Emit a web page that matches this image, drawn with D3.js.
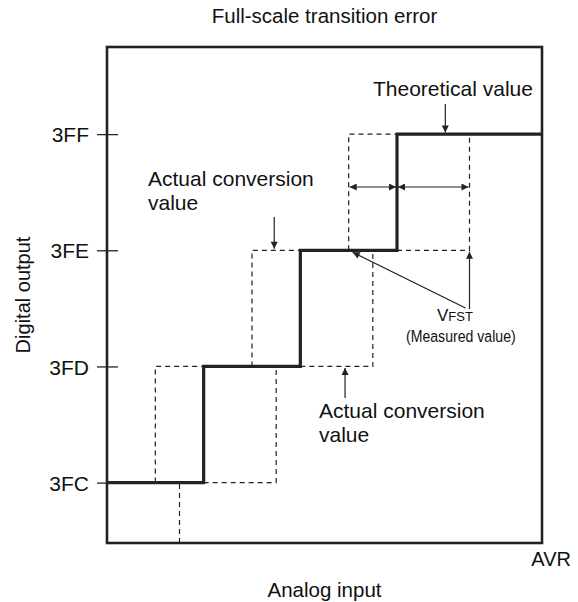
<!DOCTYPE html>
<html><head><meta charset="utf-8">
<script src="https://cdn.jsdelivr.net/npm/d3@7/dist/d3.min.js"></script>
<style>html,body{margin:0;padding:0;background:#fff;} text{font-family:"Liberation Sans",Arial,Helvetica,sans-serif;fill:#111;}</style>
</head><body>
<svg id="c" width="578" height="602"></svg>
<script>
// ---- data ----
const codes = ["3FC", "3FD", "3FE", "3FF"];            // digital output codes (y ticks)
const theoTransitions = [4, 8, 12];                    // theoretical code transitions (analog input units)
const earlyTransitions = [2, 6, 10];                   // actual conversion (early) transitions
const lateTransitions = [3, 7, 11, 15];                // actual conversion (late) transitions, first one 3FB->3FC
const analogMax = 18;                                  // AVR
const title = "Full-scale transition error";

const svg = d3.select("#c");
const x = d3.scaleLinear().domain([0, analogMax]).range([107, 542]);
const y = d3.scaleLinear().domain([-0.52, 3.75]).range([543, 47]);
const ink = "#222";

// arrow marker
const defs = svg.append("defs");
defs.append("marker").attr("id", "ah").attr("viewBox", "0 0 10 10").attr("refX", 10).attr("refY", 5)
  .attr("markerWidth", 10).attr("markerHeight", 7).attr("markerUnits", "userSpaceOnUse").attr("orient", "auto-start-reverse")
  .append("path").attr("d", "M0,0 L10,5 L0,10 z").attr("fill", ink);

// title
svg.append("text").attr("x", (x(0) + x(analogMax)) / 2).attr("y", 23).attr("text-anchor", "middle")
  .attr("font-size", 20.5).text(title);

// y axis ticks & labels
const yAxis = d3.axisLeft(y).tickValues(d3.range(codes.length)).tickFormat(i => codes[i]).tickSize(0);
const ga = svg.append("g").attr("transform", `translate(${x(0)},0)`).call(yAxis);
ga.select(".domain").remove();
ga.selectAll("text").attr("font-size", 21).attr("x", -18).attr("dy", "0.36em").style("fill", "#111")
  .attr("font-family", "Liberation Sans,Arial,sans-serif");
ga.selectAll(".tick line").attr("x1", -10).attr("x2", 11).attr("stroke", ink).attr("stroke-width", 1.3);

// dashed actual conversion lines
const line = d3.line().x(d => x(d[0])).y(d => y(d[1]));
const dashed = [];
earlyTransitions.forEach((t, i) => dashed.push([[t, i], [t, i + 1], [theoTransitions[i], i + 1]]));
dashed.push([[lateTransitions[0], -0.52], [lateTransitions[0], 0]]);
theoTransitions.forEach((t, i) => dashed.push([[t, i], [lateTransitions[i + 1], i], [lateTransitions[i + 1], i + 1]]));
svg.append("g").selectAll("path").data(dashed).join("path")
  .attr("d", line).attr("fill", "none").attr("stroke", ink).attr("stroke-width", 1.2).attr("stroke-dasharray", "5,4");

// theoretical staircase
const theo = [[0, 0]];
theoTransitions.forEach((t, i) => { theo.push([t, i]); theo.push([t, i + 1]); });
theo.push([analogMax, codes.length - 1]);
svg.append("path").attr("d", line(theo)).attr("fill", "none").attr("stroke", ink).attr("stroke-width", 3.2)
  .attr("stroke-linejoin", "miter");

// frame
svg.append("rect").attr("x", x(0)).attr("y", y(3.75)).attr("width", x(analogMax) - x(0)).attr("height", y(-0.52) - y(3.75))
  .attr("fill", "none").attr("stroke", ink).attr("stroke-width", 2.6);

// arrows
function arrow(x1, y1, x2, y2, both) {
  const p = svg.append("line").attr("x1", x1).attr("y1", y1).attr("x2", x2).attr("y2", y2)
    .attr("stroke", ink).attr("stroke-width", 1.2).attr("marker-end", "url(#ah)");
  if (both) p.attr("marker-start", "url(#ah)");
}
arrow(x(14), 104, x(14), y(3) - 1.5);           // Theoretical value
arrow(x(6.92), 217, x(6.92), y(2) - 1.5);       // upper actual conversion value
arrow(x(9.85), 398, x(9.85), y(1) + 1.5);       // lower actual conversion value
arrow(x(10) + 1, 187, x(12) - 1, 187, true);    // double arrows
arrow(x(12) + 1, 187, x(15) - 1, 187, true);
arrow(x(15), 309, x(15), y(2) + 1.5);           // VFST arrows
arrow(x(15) - 4, 308, x(10) + 4, y(2) + 2);

// annotation texts
function twoLine(px, py, l1, l2) {
  svg.append("text").attr("x", px).attr("y", py).attr("font-size", 21).text(l1);
  svg.append("text").attr("x", px).attr("y", py + 24).attr("font-size", 21).text(l2);
}
svg.append("text").attr("x", 373).attr("y", 96).attr("font-size", 21).text("Theoretical value");
twoLine(148, 186, "Actual conversion", "value");
twoLine(319, 418, "Actual conversion", "value");
const v = svg.append("text").attr("x", 437).attr("y", 321).attr("font-size", 17);
v.append("tspan").text("V");
v.append("tspan").attr("font-size", 13).text("FST");
svg.append("text").attr("transform", "translate(406,342) scale(0.83,1)").attr("font-size", 17).text("(Measured value)");

// axis titles
svg.append("text").attr("x", 571).attr("y", 566).attr("text-anchor", "end").attr("font-size", 20).text("AVR");
svg.append("text").attr("x", (x(0) + x(analogMax)) / 2).attr("y", 597).attr("text-anchor", "middle").attr("font-size", 20.5).text("Analog input");
svg.append("text").attr("transform", "translate(30,295) rotate(-90)").attr("text-anchor", "middle").attr("font-size", 20).text("Digital output");
</script>
</body></html>
